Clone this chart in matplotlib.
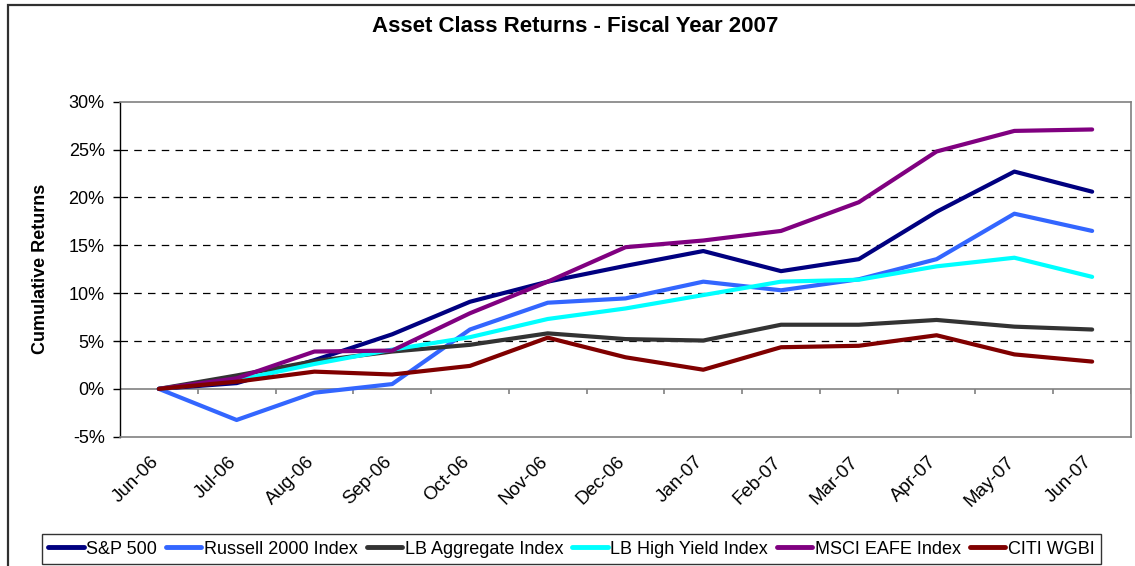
import numpy as np
import matplotlib
matplotlib.use("Agg")
import matplotlib.pyplot as plt
import matplotlib.transforms as mtransforms
from matplotlib.patches import Rectangle
from matplotlib.ticker import FuncFormatter

plt.rcParams['font.family'] = ['Liberation Sans', 'DejaVu Sans']

months = ['Jun-06', 'Jul-06', 'Aug-06', 'Sep-06', 'Oct-06', 'Nov-06', 'Dec-06',
          'Jan-07', 'Feb-07', 'Mar-07', 'Apr-07', 'May-07', 'Jun-07']

sp500 = [0.0, 0.6, 3.0, 5.7, 9.1, 11.2, 12.85, 14.4, 12.3, 13.55, 18.5, 22.7, 20.6]
russell = [0.0, -3.25, -0.4, 0.5, 6.2, 9.0, 9.45, 11.2, 10.3, 11.45, 13.55, 18.3, 16.5]
lb_agg = [0.0, 1.4, 2.9, 3.9, 4.6, 5.8, 5.2, 5.05, 6.7, 6.7, 7.2, 6.5, 6.2]
lb_hy = [0.0, 0.9, 2.6, 4.1, 5.4, 7.3, 8.4, 9.8, 11.2, 11.4, 12.8, 13.7, 11.7]
msci = [0.0, 1.1, 3.9, 4.0, 7.9, 11.2, 14.8, 15.5, 16.5, 19.5, 24.8, 26.95, 27.1]
citi = [0.0, 0.75, 1.8, 1.5, 2.4, 5.35, 3.3, 2.0, 4.35, 4.5, 5.6, 3.6, 2.85]

series = [
    ('S&P 500', sp500, '#000080'),
    ('Russell 2000 Index', russell, '#3366FF'),
    ('LB Aggregate Index', lb_agg, '#333333'),
    ('LB High Yield Index', lb_hy, '#00FFFF'),
    ('MSCI EAFE Index', msci, '#800080'),
    ('CITI WGBI', citi, '#800000'),
]

fig = plt.figure(figsize=(11.35, 5.66), dpi=100)
ax = fig.add_axes([0.1057, 0.2284, 0.8908, 0.5919])

x = np.arange(len(months))
for name, vals, color in series:
    ax.plot(x, vals, color=color, lw=3, label=name, solid_capstyle='round', zorder=3)

ax.set_xlim(-0.5, len(months) - 0.5)
ax.set_ylim(-5, 30)

# gridlines
for yv in [5, 10, 15, 20, 25]:
    ax.axhline(yv, color='black', lw=0.9, ls=(0, (6, 5)), zorder=1)
ax.axhline(0, color='#808080', lw=1.2, zorder=2)
ax.vlines(np.arange(len(months) + 1) - 0.5, -0.55, 0, color='#808080', lw=1.2, zorder=2)

ax.set_yticks(np.arange(-5, 31, 5))
ax.yaxis.set_major_formatter(FuncFormatter(lambda v, p: f'{v:.0f}%'))
ax.tick_params(axis='y', length=5, width=1, color='black', labelsize=13, pad=6)

ax.set_xticks(x)
ax.set_xticklabels(months, rotation=45, ha='right', va='top', rotation_mode='anchor', fontsize=13.5)
ax.tick_params(axis='x', length=0, pad=12)
shift = mtransforms.ScaledTranslation(-9 / 100, 0, fig.dpi_scale_trans)
for lab in ax.get_xticklabels():
    lab.set_transform(lab.get_transform() + shift)

for sp in ax.spines.values():
    sp.set_color('#808080')
    sp.set_linewidth(1.2)
ax.spines['left'].set_color('black')
ax.spines['left'].set_linewidth(1.0)

ax.set_ylabel('Cumulative Returns', fontsize=13, fontweight='bold')
ax.yaxis.set_label_coords(-0.0705, 0.5)

fig.text(0.5066, 0.953, 'Asset Class Returns - Fiscal Year 2007', ha='center', va='center',
         fontsize=16, fontweight='bold')

leg = fig.legend(loc='center', bbox_to_anchor=(0.5035, 0.030), ncol=6, fontsize=13,
                 frameon=True, fancybox=False, handlelength=1.95, handletextpad=0.15,
                 columnspacing=0.5, borderpad=0.35, borderaxespad=0)
leg.get_frame().set_edgecolor('black')
leg.get_frame().set_linewidth(1.0)
for h in leg.get_lines():
    h.set_linewidth(3.5)

fig.patches.append(Rectangle((0.007, -0.02), 1.05, 1.011, transform=fig.transFigure,
                             fill=False, edgecolor='#303030', lw=1.6))

fig.savefig('out.png', dpi=100)
